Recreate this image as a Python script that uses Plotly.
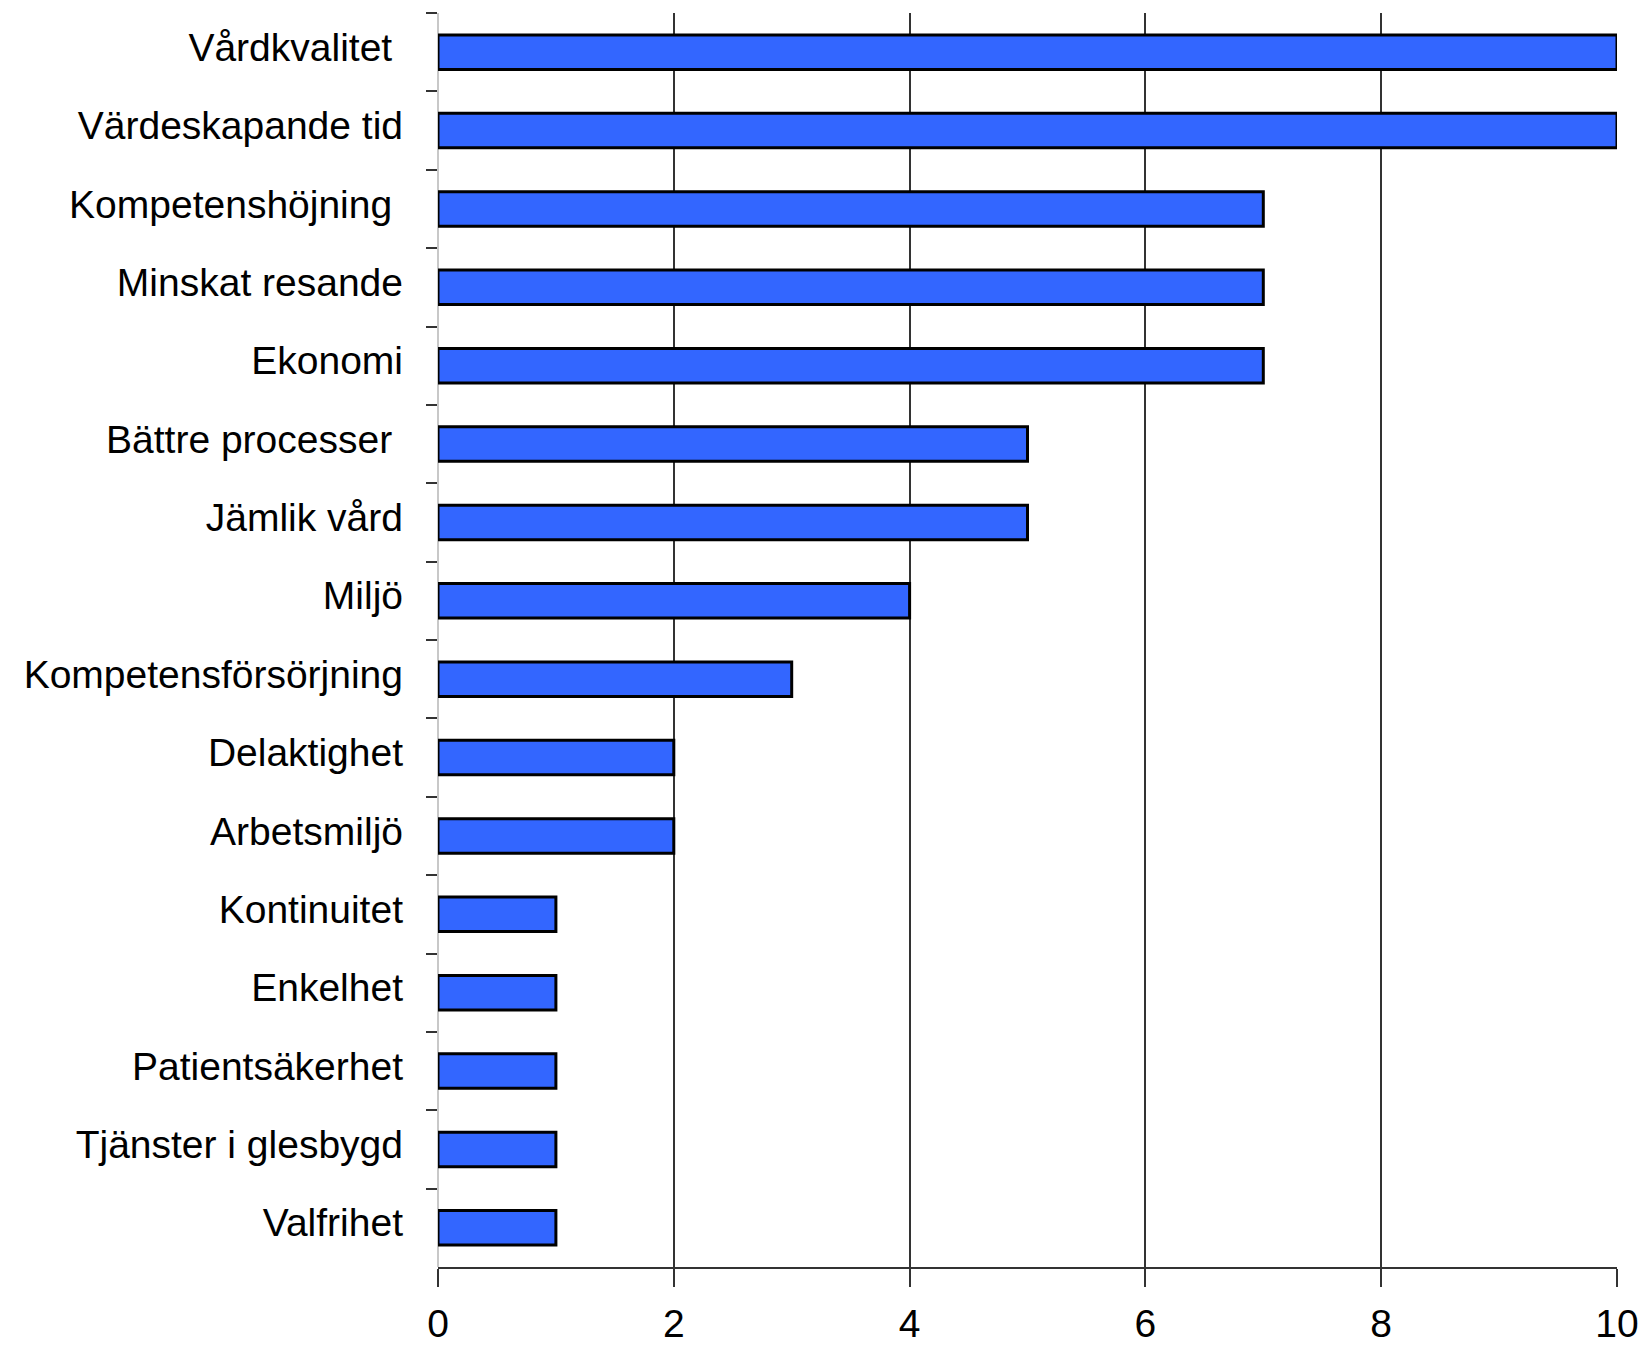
import plotly.graph_objects as go

categories = ["Vårdkvalitet\u00a0", "Värdeskapande tid", "Kompetenshöjning\u00a0", "Minskat resande",
              "Ekonomi", "Bättre processer\u00a0", "Jämlik vård", "Miljö", "Kompetensförsörjning",
              "Delaktighet", "Arbetsmiljö", "Kontinuitet", "Enkelhet", "Patientsäkerhet",
              "Tjänster i glesbygd", "Valfrihet"]
values = [10, 10, 7, 7, 7, 5, 5, 4, 3, 2, 2, 1, 1, 1, 1, 1]
x_ticks = [0, 2, 4, 6, 8, 10]

fig = go.Figure(go.Bar(
    x=values, y=categories, orientation="h",
    marker=dict(color="#3366FF", line=dict(color="black", width=3)),
    width=0.44,
))

font = "Liberation Sans, Arial, Helvetica, sans-serif"
fig.update_layout(
    width=1652, height=1345,
    margin=dict(l=430, r=43, t=5, b=86, autoexpand=False),
    plot_bgcolor="white", paper_bgcolor="white",
    showlegend=False,
    font=dict(family=font, size=38, color="black"),
    xaxis=dict(
        range=[0, 10], tickvals=x_ticks, ticktext=[str(v) for v in x_ticks],
        automargin=False,
        showgrid=True, gridcolor="#333333", gridwidth=1.5,
        zeroline=True, zerolinecolor="#c8c8c8", zerolinewidth=1.5,
        showline=True, linecolor="#333333", linewidth=1.5,
        ticks="outside", ticklen=18, tickcolor="#333333", tickwidth=1.5,
        tickfont=dict(family=font, size=39, color="black"),
        ticklabelstandoff=3,
    ),
    yaxis=dict(
        type="category", autorange="reversed", automargin=False,
        showgrid=False, zeroline=False,
        showline=False,
        ticks="outside", tickson="boundaries", ticklen=11, tickcolor="#333333", tickwidth=1.5,
        tickfont=dict(family=font, size=39, color="black"),
        ticklabelstandoff=34,
        ticklabelshift=5,
    ),
)

fig.write_html("out.html")
